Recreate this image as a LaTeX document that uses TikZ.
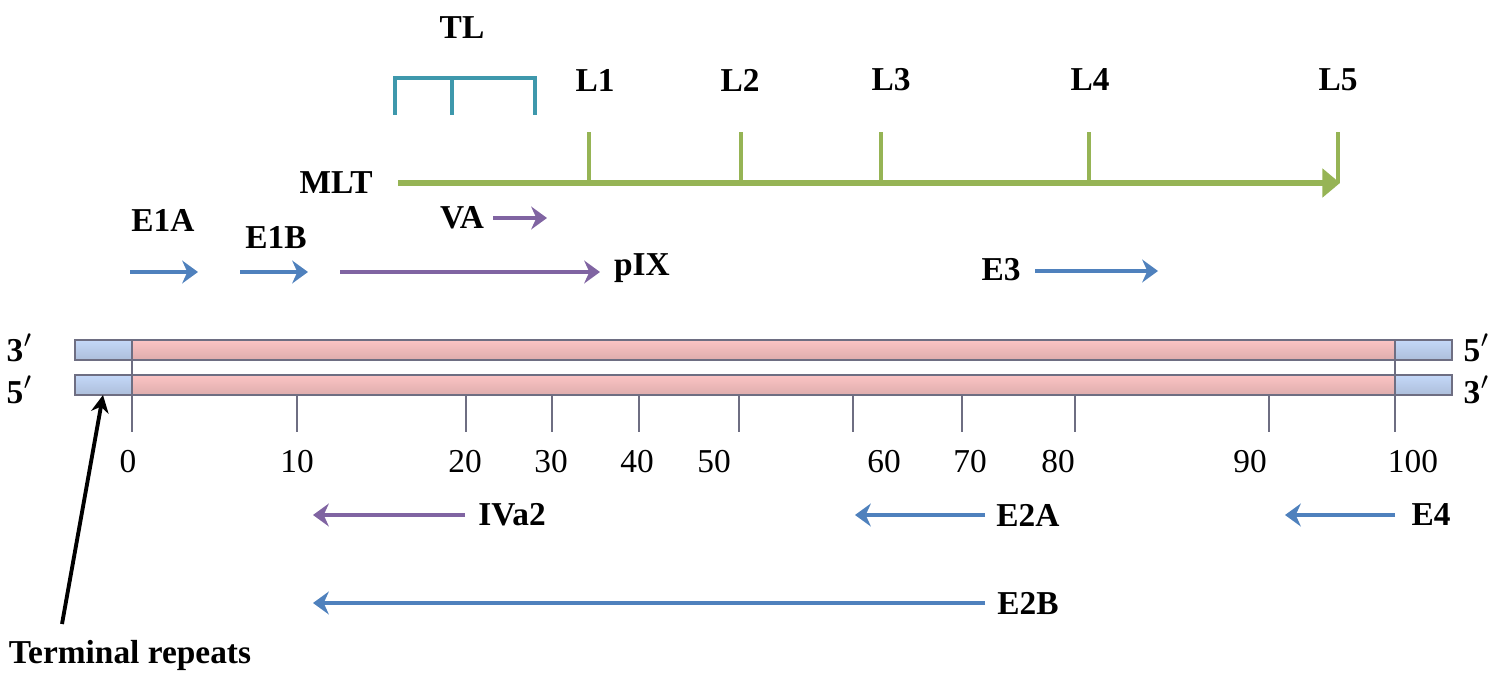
\documentclass[tikz,border=0pt]{standalone}
\usepackage{fontspec}
\setmainfont{Liberation Serif}
\usetikzlibrary{arrows.meta}

\definecolor{geneblue}{RGB}{79,129,189}
\definecolor{genepurple}{RGB}{128,100,162}
\definecolor{mltgreen}{RGB}{150,180,85}
\definecolor{tlteal}{RGB}{62,152,172}
\definecolor{strandred}{RGB}{252,196,196}
\definecolor{repeatblue}{RGB}{196,216,248}
\definecolor{strandedge}{RGB}{110,110,130}

\begin{document}
\begin{tikzpicture}[x=0.1mm,y=-0.1mm]
\tikzstyle{every node}+=[inner sep=0pt,font=\fontsize{9.5}{11}\selectfont\bfseries]
\tikzstyle{gene}=[line width=1.4pt,-{Stealth[length=4.5pt,width=6.5pt]}]
\tikzstyle{strand}=[draw=strandedge,line width=0.5pt]
\tikzstyle{scaletick}=[strandedge,line width=0.4pt]
\useasboundingbox (0,0) rectangle (1497,678);

% the two strands, terminal repeats in blue
\foreach \y in {340,375} {
  \shade [top color=repeatblue,middle color=repeatblue,bottom color=repeatblue!88!black] (75,\y) rectangle (1452,\y+20);
  \shade [top color=strandred,middle color=strandred,bottom color=strandred!88!black] (132,\y) rectangle (1395,\y+20);
  \draw [strand] (75,\y) rectangle (1452,\y+20);
}
\node (s3a) at (20,348) {3$'$};
\node (s5a) at (20,390) {5$'$};
\node (s5b) at (1477,348) {5$'$};
\node (s3b) at (1477,390) {3$'$};

% map units, labels sit a little off their ticks
\draw [scaletick] (132,340) -- (132,432);
\draw [scaletick] (1395,340) -- (1395,432);
\foreach \x in {297,466,552,639,739,853,962,1075,1269}
  \draw [scaletick] (\x,394) -- (\x,432);
\foreach \x/\v in {128/0,297/10,465/20,551/30,637/40,714/50,884/60,970/70,1058/80,1250/90,1413/100}
  \node [font=\fontsize{9.5}{11}\selectfont] (m\v) at (\x,462) {\v};

% major late transcript
\coordinate (mlt-s) at (398,183);
\coordinate (mlt-e) at (1340,183);
\draw [mltgreen,line width=1.5pt,-{Triangle[length=5pt,width=8pt]}] (mlt-s) -- (mlt-e);
\node (mlt) at (336,183) {MLT};
\foreach \x/\n in {589/1,741/2,881/3,1089/4,1338/5} {
  \coordinate (l\n-b) at (\x,183);
  \coordinate (l\n-t) at (\x,132);
  \draw [mltgreen,line width=1pt] (l\n-b) -- (l\n-t);
}
\node (l1) at (595,80) {L1};
\node (l2) at (740,80) {L2};
\node (l3) at (891,80) {L3};
\node (l4) at (1090,80) {L4};
\node (l5) at (1338,80) {L5};

% tripartite leader
\node (tl) at (462,28) {TL};
\draw [tlteal,line width=1.1pt] (395,115) -- (395,78) -- (535,78) -- (535,115);
\draw [tlteal,line width=1.1pt] (452,78) -- (452,115);

% rightward transcription units
\node (va) at (462,218) {VA};
\coordinate (va-s) at (493,218);
\coordinate (va-e) at (547,218);
\draw [gene,genepurple] (va-s) -- (va-e);

\node (e1a) at (163,220) {E1A};
\coordinate (e1a-s) at (130,272);
\coordinate (e1a-e) at (198,272);
\draw [gene,geneblue] (e1a-s) -- (e1a-e);

\node (e1b) at (276,238) {E1B};
\coordinate (e1b-s) at (240,272);
\coordinate (e1b-e) at (308,272);
\draw [gene,geneblue] (e1b-s) -- (e1b-e);

\node (pix) at (642,268) {pIX};
\coordinate (pix-s) at (340,272);
\coordinate (pix-e) at (600,272);
\draw [gene,genepurple] (pix-s) -- (pix-e);

\node (e3) at (1001,270) {E3};
\coordinate (e3-s) at (1035,271);
\coordinate (e3-e) at (1158,271);
\draw [gene,geneblue] (e3-s) -- (e3-e);

% leftward transcription units
\node (iva2) at (512,515) {IVa2};
\coordinate (iva2-s) at (465,515);
\coordinate (iva2-e) at (313,515);
\draw [gene,genepurple] (iva2-s) -- (iva2-e);

\node (e2a) at (1028,515) {E2A};
\coordinate (e2a-s) at (985,515);
\coordinate (e2a-e) at (855,515);
\draw [gene,geneblue] (e2a-s) -- (e2a-e);

\node (e4) at (1431,515) {E4};
\coordinate (e4-s) at (1395,515);
\coordinate (e4-e) at (1285,515);
\draw [gene,geneblue] (e4-s) -- (e4-e);

\node (e2b) at (1028,603) {E2B};
\coordinate (e2b-s) at (985,603);
\coordinate (e2b-e) at (313,603);
\draw [gene,geneblue] (e2b-s) -- (e2b-e);

% pointer to the repeats
\node (term) at (130,655) {Terminal repeats};
\coordinate (term-s) at (62,624);
\coordinate (term-e) at (103,395);
\draw [black,line width=1.1pt,-{Stealth[length=5pt,width=5pt]}] (term-s) -- (term-e);
\end{tikzpicture}
\end{document}
